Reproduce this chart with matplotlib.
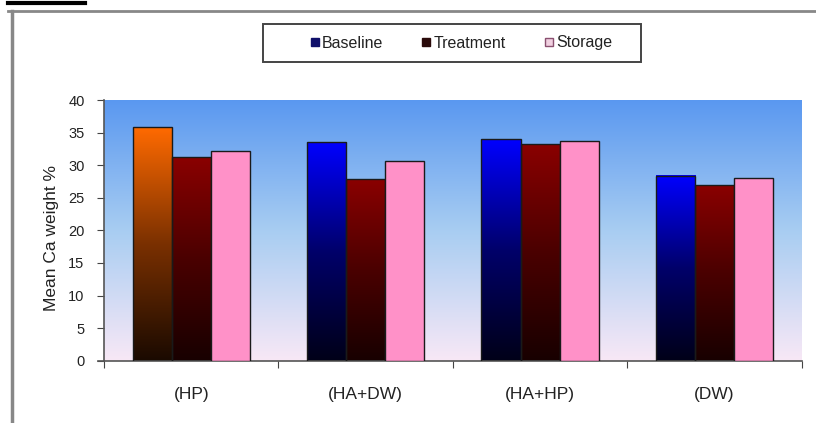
import numpy as np
import matplotlib.pyplot as plt
from matplotlib.colors import LinearSegmentedColormap
from matplotlib.patches import Rectangle
from matplotlib.lines import Line2D

plt.rcParams['font.family'] = ['Liberation Sans', 'DejaVu Sans']

# Dane
groups = ['(HP)', '(HA+DW)', '(HA+HP)', '(DW)']
series = ['Baseline', 'Treatment', 'Storage']
baseline = [35.9, 33.5, 34.0, 28.4]
treatment = [31.3, 27.9, 33.2, 27.0]
storage = [32.2, 30.7, 33.7, 28.1]

# Gradienty słupków (dół -> góra)
blue_grad = LinearSegmentedColormap.from_list('b', ['#000018', '#00006a', '#0000ff'])
orange_grad = LinearSegmentedColormap.from_list('o', ['#1a0a00', '#7a3000', '#ff6a00'])
red_grad = LinearSegmentedColormap.from_list('r', ['#180000', '#4a0000', '#8a0000'])
pink = '#ff91c8'
bg_grad = LinearSegmentedColormap.from_list('bg', ['#f8e8f6', '#a8cdf2', '#5a98f0'])

fig = plt.figure(figsize=(8.16, 4.23), dpi=100)
ax = fig.add_axes([104 / 816, 1 - 360.7 / 423, 697.7 / 816, 260.7 / 423])

ymax = 40
grad = np.linspace(0, 1, 256).reshape(-1, 1)
ax.imshow(grad, cmap=bg_grad, origin='lower', aspect='auto',
          extent=[0.5, 4.5, 0, ymax], zorder=0)

width = 0.224
x = np.arange(1, len(groups) + 1)

def gradient_bar(xc, h, cmap):
    x0 = xc - width / 2
    ax.imshow(grad, cmap=cmap, origin='lower', aspect='auto',
              extent=[x0, x0 + width, 0, h], zorder=2)
    ax.add_patch(Rectangle((x0, 0), width, h, fill=False,
                           edgecolor='#1a1a1a', lw=1.0, zorder=3))

for i in range(len(groups)):
    gradient_bar(x[i] - width, baseline[i], orange_grad if i == 0 else blue_grad)
    gradient_bar(x[i], treatment[i], red_grad)
    ax.add_patch(Rectangle((x[i] + width / 2, 0), width, storage[i],
                           facecolor=pink, edgecolor='#1a1a1a', lw=1.0, zorder=3))

ax.set_xlim(0.5, 4.5)
ax.set_ylim(0, ymax)

ax.set_yticks(range(0, 41, 5))
ax.set_xticks(np.arange(0.5, 4.6, 1))
ax.set_xticklabels([])
ax.set_xticks(x, minor=True)
ax.set_xticklabels(groups, minor=True, fontsize=12.5, color='#222222')
ax.tick_params(axis='x', which='minor', length=0, pad=19)
ax.tick_params(axis='x', which='major', length=5, direction='out', color='#444444')
ax.tick_params(axis='y', length=5, direction='out', color='#444444',
               labelsize=10.5, labelcolor='#222222', pad=9)

for s in ['top', 'right']:
    ax.spines[s].set_visible(False)
for s in ['left', 'bottom']:
    ax.spines[s].set_color('#555555')
    ax.spines[s].set_linewidth(1.2)
# oś X lekko wysunięta w lewo za oś Y
ax.plot([0.5 - 6 / 174.4, 0.5], [0, 0], color='#555555', lw=1.2,
        clip_on=False, zorder=4)

ax.set_ylabel('Mean Ca weight %', fontsize=12.5, color='#222222')
ax.yaxis.set_label_coords(-0.064, 0.47)

# Legenda z ramką rysowaną osobno
fig.add_artist(Rectangle((263 / 816, 1 - 62 / 423), 378 / 816, 38 / 423,
                         transform=fig.transFigure, fill=False,
                         edgecolor='#444444', lw=1.4))
handles = [
    Line2D([], [], marker='s', ls='', markersize=6, markerfacecolor='#10106a', markeredgecolor='#10106a'),
    Line2D([], [], marker='s', ls='', markersize=6, markerfacecolor='#2a0a0a', markeredgecolor='#2a0a0a'),
    Line2D([], [], marker='s', ls='', markersize=6, markerfacecolor='#f0d0e0', markeredgecolor='#8a5070'),
]
leg = fig.legend(handles, series, loc='center', bbox_to_anchor=(461 / 816, 1 - 43 / 423),
                 ncol=3, fontsize=11.5, frameon=False,
                 handlelength=0.6, handletextpad=0.15, columnspacing=2.4,
                 borderpad=0, borderaxespad=0)
for t in leg.get_texts():
    t.set_color('#222222')

# Ramka wokół wykresu i podkreślenie podpisu
fig.add_artist(Line2D([8 / 816, 1], [1 - 11.5 / 423] * 2, color='#888888', lw=2.0))
fig.add_artist(Line2D([12 / 816] * 2, [0, 1 - 11.5 / 423], color='#888888', lw=2.5))
fig.add_artist(Line2D([8 / 816, 85 / 816], [1 - 3 / 423] * 2, color='black', lw=3))

fig.savefig('out.png', dpi=100)
